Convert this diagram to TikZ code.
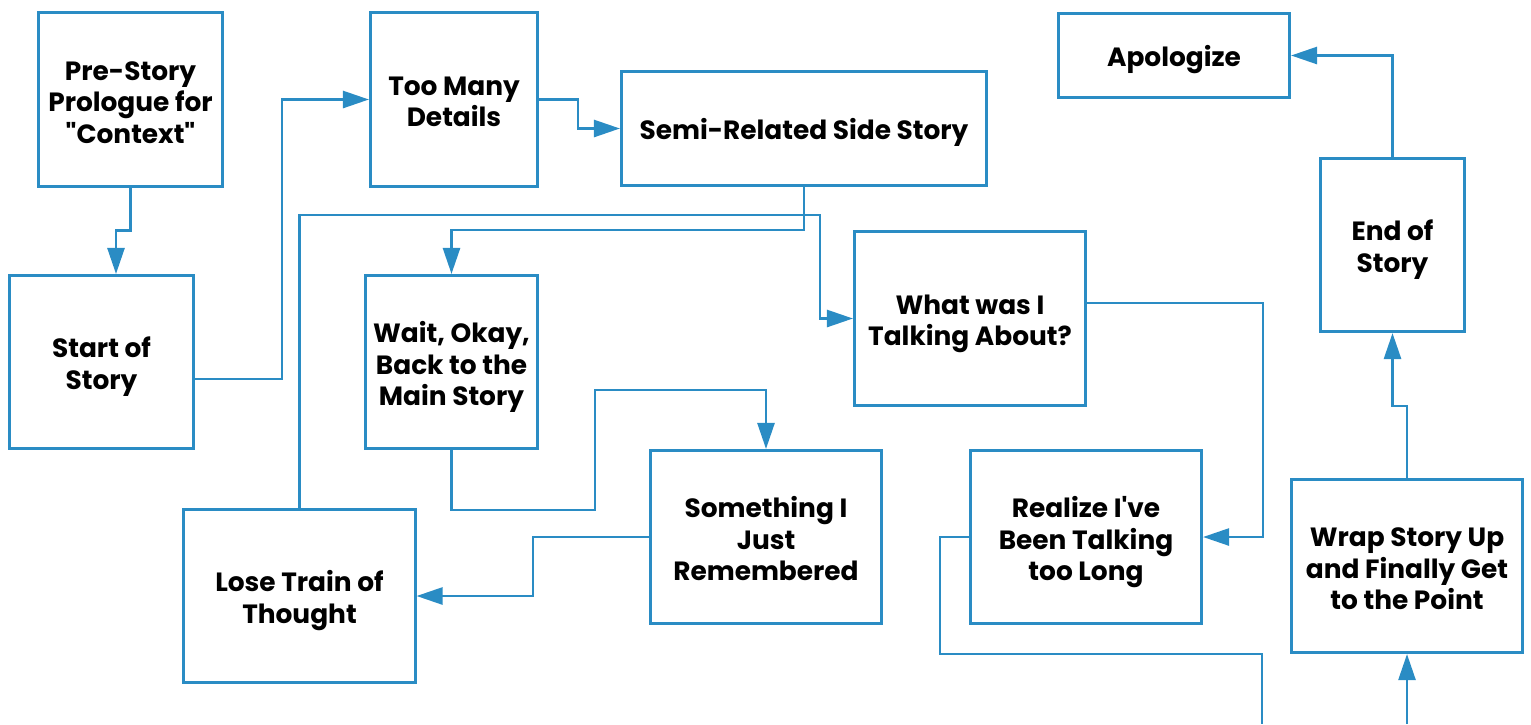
\documentclass[tikz,border=0pt]{standalone}
\usepackage{fontspec}
\setmainfont{Poppins}[Ligatures=TeXOff]
\usetikzlibrary{arrows.meta,positioning}
\definecolor{flowblue}{RGB}{42,140,196}
\begin{document}
\begin{tikzpicture}[x=1pt, y=-1pt, thick,
  story/.style = {draw=flowblue, line width=2.6pt, align=center, inner sep=0pt,
    minimum width=231.5pt, minimum height=173.5pt, text depth=-5pt,
    font=\fontsize{26.4}{31.5}\selectfont\bfseries},
  narrow/.style = {minimum width=184.5pt},
  twoline/.style = {text height=54.5pt},
  threeline/.style = {text height=87pt},
  flow/.style = {draw=flowblue, line width=2.6pt},
  >={Triangle[length=26pt,width=17pt]}]
\useasboundingbox (0,0) rectangle (1531,724);
\node[story, narrow, threeline] (prestory) at (130.5,99.5) {Pre-Story\\Prologue for\\"Context"};
\node[story, twoline, minimum width=167.5pt] (toomany) at (454,99.5) {Too Many\\Details};
\node[story, minimum width=365.5pt, minimum height=114.5pt] (semi) at (804,128.5) {Semi-Related Side Story};
\node[story, minimum height=84.5pt] (apologize) at (1174,55.5) {Apologize};
\node[story, twoline, minimum width=144.5pt] (endstory) at (1392.5,245) {End of\\Story};
\node[story, narrow, twoline] (start) at (101.5,362) {Start of\\Story};
\node[story, threeline, minimum width=172.5pt] (backmain) at (451.5,362) {Wait, Okay,\\Back to the\\Main Story};
\node[story, twoline] (talkabout) at (970,318.5) {What was I\\Talking About?};
\node[story, threeline] (remembered) at (766,537) {Something I\\Just\\Remembered};
\node[story, twoline] (losetrain) at (299.5,596) {Lose Train of\\Thought};
\node[story, threeline] (realize) at (1086,537) {Realize I've\\Been Talking\\too Long};
\node[story, threeline] (wrapup) at (1407,566) {Wrap Story Up\\and Finally Get\\to the Point};
\coordinate (exitA) at (1262,724);
\coordinate (entryB) at (1407,724);
\draw[flow, ->] (prestory.south) -- ++(0,43) -| ([xshift=14.5pt]start.north);
\draw[flow, ->] ([yshift=-17pt]start.east) -- ++(87,0) |- (toomany.west);
\draw[flow, ->] (toomany.east) -- ++(39,0) |- (semi.west);
\draw[flow, ->] (semi.south) -- ++(0,43) -| (backmain.north);
\draw[flow, ->] (losetrain.north) -- ++(0,-293) -- ++(520.5,0) |- (talkabout.west);
\draw[flow, ->] (backmain.south) -- ++(0,60) -- ++(143.5,0) -- ++(0,-120) -| (remembered.north);
\draw[flow, ->] (remembered.west) -- ++(-116,0) |- (losetrain.east);
\draw[flow, ->] ([yshift=15.5pt]talkabout.east) -- ++(176,0) |- (realize.east);
\draw[flow] (realize.west) -- ++(-29,0) -- ++(0,117) -| (exitA);
\draw[flow, ->] (entryB) -- (wrapup.south);
\draw[flow, ->] (wrapup.north) -- ++(0,-72) -| (endstory.south);
\draw[flow, ->] (endstory.north) |- (apologize.east);
\end{tikzpicture}
\end{document}
